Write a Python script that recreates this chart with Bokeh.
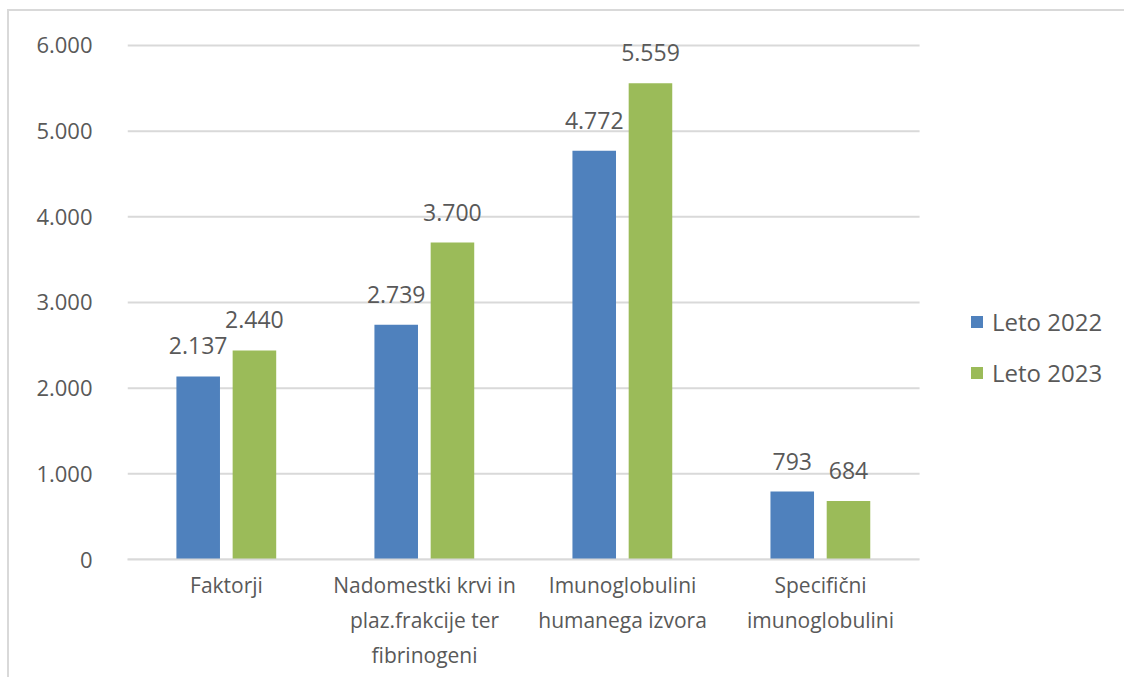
from bokeh.plotting import figure
from bokeh.models import ColumnDataSource, LabelSet, Legend, LegendItem, FixedTicker, Range1d
from bokeh.transform import dodge
from bokeh.core.properties import value
from bokeh.embed import file_html
from bokeh.resources import INLINE

categories = ["Faktorji", "Nadomestki krvi in\nplaz.frakcije ter\nfibrinogeni",
              "Imunoglobulini\nhumanega izvora", "Specifični\nimunoglobulini"]
series_names = ["Leto 2022", "Leto 2023"]
values_2022 = [2137, 2739, 4772, 793]
values_2023 = [2440, 3700, 5559, 684]
y_ticks = [0, 1000, 2000, 3000, 4000, 5000, 6000]
y_tick_labels = ["0", "1.000", "2.000", "3.000", "4.000", "5.000", "6.000"]

def fmt(v):
    return f"{v:,}".replace(",", ".")

n = len(categories)
centers = [i + 0.5 for i in range(n)]

source = ColumnDataSource(data=dict(
    xc=centers,
    v2022=values_2022,
    v2023=values_2023,
    l2022=[fmt(v) for v in values_2022],
    l2023=[fmt(v) for v in values_2023],
))

FONT = "Open Sans"
TXT = "#595959"
GRID = "#d9d9d9"

# frame spans the plot area plus the legend area on the right, and a little
# headroom above the 6.000 line so the top data label is not clipped
p = figure(x_range=Range1d(0, 5.045), y_range=Range1d(0, 6175),
           width=1117, height=668, output_backend="svg", toolbar_location=None,
           min_border_left=118, min_border_right=0, min_border_top=19,
           min_border_bottom=120)
p.styles = {"border-top": "2px solid #d9d9d9", "border-left": "2px solid #d9d9d9",
            "margin-top": "9px", "margin-left": "7px"}
p.outline_line_color = None
p.background_fill_color = "white"
p.border_fill_color = "white"
p.xgrid.visible = False
p.ygrid.visible = False

# horizontal gridlines limited to the category area
p.segment(x0=[0] * len(y_ticks), x1=[n] * len(y_ticks), y0=y_ticks, y1=y_ticks,
          line_color=GRID, line_width=2)

r1 = p.vbar(x=dodge("xc", -0.143), top="v2022", width=0.22,
            source=source, color="#4F81BD", line_color=None)
r2 = p.vbar(x=dodge("xc", 0.141), top="v2023", width=0.22,
            source=source, color="#9BBB59", line_color=None)

for col, off in (("2022", -0.143), ("2023", 0.141)):
    p.add_layout(LabelSet(x=dodge("xc", off), y="v" + col, text="l" + col,
                          source=source, text_align="center", text_baseline="alphabetic",
                          y_offset=22, text_font=value(FONT), text_font_size=value("23px"),
                          text_color=TXT))

p.yaxis.ticker = FixedTicker(ticks=y_ticks)
p.yaxis.major_label_overrides = dict(zip(y_ticks, y_tick_labels))
p.yaxis.axis_line_color = None
p.yaxis.major_tick_line_color = None
p.yaxis.minor_tick_line_color = None
p.yaxis.major_label_standoff = 29
p.yaxis.major_label_text_font = FONT
p.yaxis.major_label_text_font_size = "22px"
p.yaxis.major_label_text_color = TXT

p.xaxis.ticker = FixedTicker(ticks=centers)
p.xaxis.major_label_overrides = dict(zip(centers, categories))
p.xaxis.bounds = (0, n)
p.xaxis.axis_line_color = GRID
p.xaxis.axis_line_width = 2
p.xaxis.major_tick_line_color = None
p.xaxis.minor_tick_line_color = None
p.xaxis.major_label_standoff = 5
p.xaxis.major_label_text_font = FONT
p.xaxis.major_label_text_font_size = "21px"
p.xaxis.major_label_text_color = TXT
p.xaxis.major_label_text_line_height = 1.25

legend = Legend(items=[LegendItem(label=series_names[0], renderers=[r1]),
                       LegendItem(label=series_names[1], renderers=[r2])],
                location=(842, 170), orientation="vertical")
legend.border_line_color = None
legend.background_fill_alpha = 0
legend.padding = 0
legend.margin = 0
legend.glyph_width = 15
legend.glyph_height = 15
legend.spacing = 18
legend.label_standoff = 8
legend.label_text_font = FONT
legend.label_text_font_size = "24px"
legend.label_text_color = TXT
p.add_layout(legend)

open("out.html", "w").write(file_html(p, INLINE))
